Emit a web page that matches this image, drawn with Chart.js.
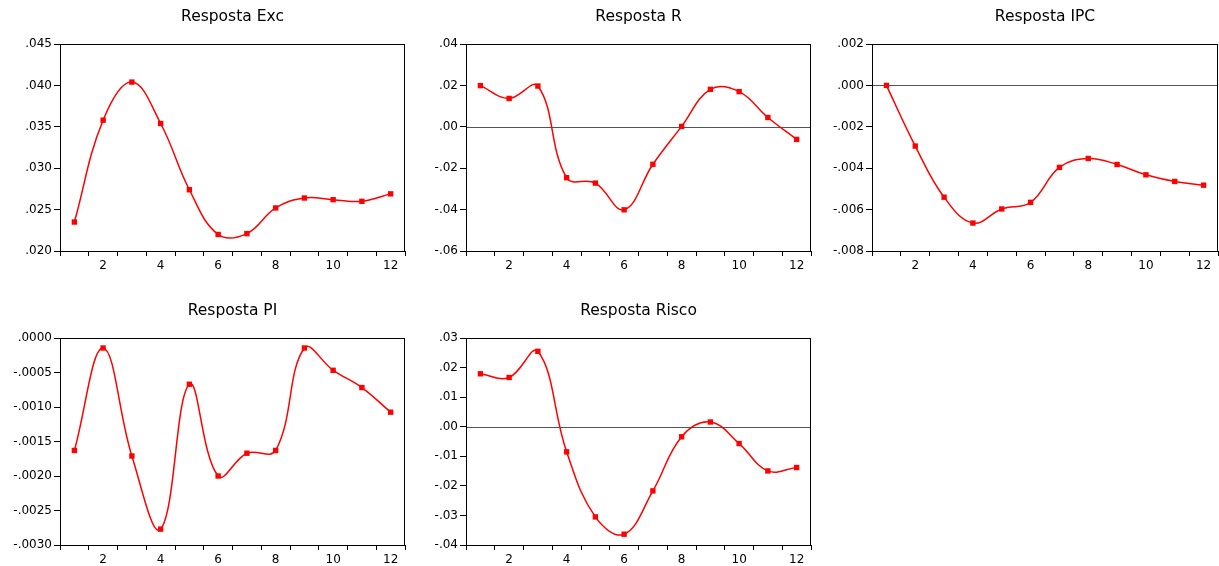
<!DOCTYPE html>
<html>
<head>
<meta charset="utf-8">
<title>Funções de resposta</title>
<script src="https://cdn.jsdelivr.net/npm/chart.js@4/dist/chart.umd.min.js"></script>
<style>
  html, body { margin: 0; padding: 0; background: #fff; }
  body { width: 1219px; height: 566px; position: relative; overflow: hidden; }
  canvas { position: absolute; }
</style>
</head>
<body>
<script>
// Horizon (periods after the shock)
const periods = [1, 2, 3, 4, 5, 6, 7, 8, 9, 10, 11, 12];

// Response of each variable
const respExc   = [0.0235, 0.0358, 0.0404, 0.0354, 0.0274, 0.0220, 0.0221, 0.0252, 0.0264, 0.0262, 0.0260, 0.0269];
const respR     = [0.0199, 0.0137, 0.0197, -0.0246, -0.0272, -0.0401, -0.0181, 0.0002, 0.0181, 0.0170, 0.0045, -0.0061];
const respIPC   = [0.0000, -0.00293, -0.00540, -0.00665, -0.00597, -0.00565, -0.00396, -0.00353, -0.00382, -0.00432, -0.00464, -0.00482];
const respPI    = [-0.00163, -0.000145, -0.00171, -0.00277, -0.00067, -0.00200, -0.00167, -0.00163, -0.000145, -0.000468, -0.000718, -0.001075];
const respRisco = [0.0179, 0.01665, 0.0255, -0.0085, -0.0305, -0.03635, -0.0217, -0.0034, 0.0016, -0.0057, -0.01495, -0.0138];

// Vertical axis tick labels
const ticksExc   = ['.020', '.025', '.030', '.035', '.040', '.045'];
const ticksR     = ['-.06', '-.04', '-.02', '.00', '.02', '.04'];
const ticksIPC   = ['-.008', '-.006', '-.004', '-.002', '.000', '.002'];
const ticksPI    = ['-.0030', '-.0025', '-.0020', '-.0015', '-.0010', '-.0005', '.0000'];
const ticksRisco = ['-.04', '-.03', '-.02', '-.01', '.00', '.01', '.02', '.03'];

const titles = ['Resposta Exc', 'Resposta R', 'Resposta IPC', 'Resposta PI', 'Resposta Risco'];

const FONT = 'DejaVu Sans';
const Y_AXIS_W = 60, TITLE_H = 44, X_AXIS_H = 30;

// Plot-area boxes of the five panels
const panels = [
  { title: titles[0], values: respExc,   ticks: ticksExc,   zero: false, box: { x: 60,  y: 44,  w: 345, h: 207 } },
  { title: titles[1], values: respR,     ticks: ticksR,     zero: true,  box: { x: 466, y: 44,  w: 345, h: 207 } },
  { title: titles[2], values: respIPC,   ticks: ticksIPC,   zero: true,  box: { x: 872, y: 44,  w: 346, h: 207 } },
  { title: titles[3], values: respPI,    ticks: ticksPI,    zero: false, box: { x: 60,  y: 338, w: 345, h: 207 } },
  { title: titles[4], values: respRisco, ticks: ticksRisco, zero: true,  box: { x: 466, y: 338, w: 345, h: 207 } }
];

// Frame, zero line and centred title
const framePlugin = {
  id: 'frame',
  beforeDatasetsDraw(chart, args, opts) {
    const { ctx, chartArea: a, scales } = chart;
    if (opts.zero) {
      const y = Math.round(scales.y.getPixelForValue(0)) + 0.5;
      ctx.save();
      ctx.strokeStyle = '#555';
      ctx.lineWidth = 1;
      ctx.beginPath();
      ctx.moveTo(a.left, y);
      ctx.lineTo(a.right, y);
      ctx.stroke();
      ctx.restore();
    }
  },
  afterDraw(chart, args, opts) {
    const { ctx, chartArea: a } = chart;
    ctx.save();
    ctx.strokeStyle = '#000';
    ctx.lineWidth = 1;
    ctx.strokeRect(Math.round(a.left) + 0.5, Math.round(a.top) + 0.5,
                   Math.round(a.right - a.left) - 1, Math.round(a.bottom - a.top));
    ctx.fillStyle = '#000';
    ctx.font = '15.5px "' + FONT + '"';
    ctx.textAlign = 'center';
    ctx.textBaseline = 'alphabetic';
    ctx.fillText(opts.title, (a.left + a.right) / 2, a.top - 23);
    ctx.restore();
  }
};

function buildChart(p, left, top, W, H) {
  const cv = document.createElement('canvas');
  cv.width = W; cv.height = H;
  cv.style.width = W + 'px'; cv.style.height = H + 'px';
  cv.style.left = left + 'px';
  cv.style.top = top + 'px';
  document.body.appendChild(cv);

  const tickVals = p.ticks.map(t => parseFloat(t));

  return new Chart(cv, {
    type: 'line',
    data: {
      labels: periods.map(String),
      datasets: [{
        data: p.values,
        borderColor: '#ff0000',
        borderWidth: 1.5,
        tension: 0.4,
        fill: false,
        pointStyle: 'rect',
        pointRadius: 3.8,
        pointBackgroundColor: '#ff0000',
        pointBorderColor: '#ff0000',
        pointBorderWidth: 0
      }]
    },
    options: {
      responsive: false,
      maintainAspectRatio: false,
      animation: false,
      devicePixelRatio: 1,
      layout: { padding: { left: 0, top: TITLE_H, right: 1, bottom: 0 } },
      plugins: {
        legend: { display: false },
        tooltip: { enabled: false },
        title: { display: false },
        frame: { title: p.title, zero: p.zero }
      },
      scales: {
        x: {
          type: 'category',
          offset: true,
          grid: { offset: true, drawOnChartArea: false, tickLength: 5, color: '#000', lineWidth: 1 },
          border: { display: false },
          ticks: {
            autoSkip: false, maxRotation: 0, minRotation: 0, padding: 3, color: '#000',
            font: { family: FONT, size: 12 },
            callback: (v, i) => (periods[i] % 2 === 0 ? String(periods[i]) : '')
          },
          afterFit: s => { s.height = X_AXIS_H; }
        },
        y: {
          min: Math.min(...tickVals),
          max: Math.max(...tickVals),
          afterBuildTicks: s => { s.ticks = tickVals.map(v => ({ value: v })); },
          grid: { drawOnChartArea: false, tickLength: 6, color: '#000', lineWidth: 1 },
          border: { display: false },
          ticks: {
            padding: 2, color: '#000',
            font: { family: FONT, size: 12 },
            callback: (v, i) => p.ticks[i]
          },
          afterFit: s => { s.width = Y_AXIS_W; }
        }
      }
    },
    plugins: [framePlugin]
  });
}

panels.forEach(p => {
  const W = p.box.w + Y_AXIS_W + 1;
  const H = p.box.h + TITLE_H + X_AXIS_H;
  let chart = buildChart(p, p.box.x - Y_AXIS_W, p.box.y - TITLE_H, W, H);
  // Size the canvas so that the plot area lands exactly on its box
  const a = chart.chartArea;
  const newW = Math.round(W + (a.left + p.box.w - a.right));
  const newH = Math.round(H + (a.top + p.box.h - a.bottom));
  const newL = Math.round(p.box.x - a.left);
  const newT = Math.round(p.box.y - a.top);
  if (newW !== W || newH !== H || newL !== p.box.x - Y_AXIS_W || newT !== p.box.y - TITLE_H) {
    chart.canvas.remove();
    chart.destroy();
    chart = buildChart(p, newL, newT, newW, newH);
  }
});
</script>
</body>
</html>
